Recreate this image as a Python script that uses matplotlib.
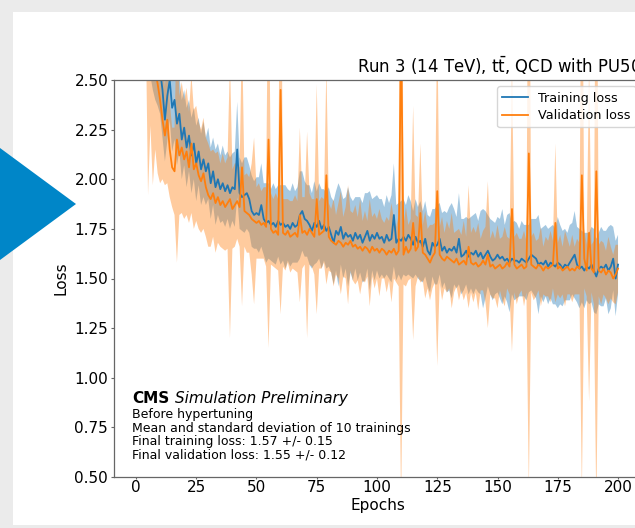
import numpy as np
import matplotlib.pyplot as plt
from matplotlib.patches import Rectangle, Polygon

# per-epoch loss curves (mean and spread over 10 trainings)
epochs = np.arange(1, 201)

train_mean = [
    5.10, 4.05, 3.45, 3.10, 2.90, 2.78, 2.70, 2.64, 2.60, 2.55,
    2.45, 2.30, 2.42, 2.50, 2.36, 2.40, 2.28, 2.33, 2.20, 2.26,
    2.16, 2.22, 2.12, 2.18, 2.08, 2.14, 2.05, 2.10, 2.04, 2.08,
    1.98, 2.04, 1.96, 2.00, 1.95, 1.98, 1.94, 1.97, 1.93, 1.96,
    1.95, 2.15, 1.93, 1.91, 1.92, 1.93, 1.90, 1.84, 1.82, 1.83,
    1.82, 1.87, 1.80, 1.78, 1.79, 1.77, 1.78, 1.76, 1.79, 1.77,
    1.78, 1.76, 1.77, 1.75, 1.78, 1.76, 1.77, 1.82, 1.84, 1.80,
    1.79, 1.77, 1.74, 1.78, 1.76, 1.79, 1.75, 1.77, 1.74, 1.76,
    1.72, 1.68, 1.74, 1.72, 1.76, 1.70, 1.73, 1.71, 1.72, 1.69,
    1.73, 1.70, 1.72, 1.68, 1.71, 1.74, 1.69, 1.72, 1.70, 1.73,
    1.70, 1.71, 1.68, 1.72, 1.69, 1.70, 1.82, 1.68, 1.70, 1.69,
    1.71, 1.69, 1.72, 1.70, 1.67, 1.71, 1.68, 1.69, 1.66, 1.70,
    1.64, 1.62, 1.68, 1.66, 1.67, 1.70, 1.64, 1.66, 1.63, 1.65,
    1.64, 1.66, 1.63, 1.70, 1.61, 1.62, 1.64, 1.61, 1.63, 1.62,
    1.64, 1.61, 1.63, 1.60, 1.62, 1.64, 1.61, 1.59, 1.60, 1.62,
    1.60, 1.61, 1.59, 1.60, 1.58, 1.60, 1.59, 1.59, 1.58, 1.60,
    1.59, 1.58, 1.60, 1.62, 1.61, 1.60, 1.57, 1.58, 1.57, 1.59,
    1.56, 1.58, 1.57, 1.56, 1.58, 1.57, 1.55, 1.57, 1.56, 1.58,
    1.60, 1.62, 1.57, 1.55, 1.56, 1.54, 1.56, 1.55, 1.57, 1.54,
    1.51, 1.55, 1.56, 1.55, 1.57, 1.54, 1.56, 1.60, 1.50, 1.57,
]

train_std = [
    0.60, 0.45, 0.38, 0.32, 0.28, 0.26, 0.25, 0.24, 0.23, 0.22,
    0.24, 0.21, 0.23, 0.20, 0.22, 0.20, 0.21, 0.19, 0.20, 0.19,
    0.20, 0.18, 0.19, 0.18, 0.19, 0.17, 0.18, 0.19, 0.17, 0.18,
    0.18, 0.17, 0.19, 0.18, 0.17, 0.19, 0.18, 0.17, 0.18, 0.17,
    0.19, 0.24, 0.18, 0.17, 0.19, 0.18, 0.17, 0.18, 0.17, 0.18,
    0.19, 0.21, 0.18, 0.20, 0.19, 0.18, 0.20, 0.19, 0.18, 0.20,
    0.19, 0.21, 0.18, 0.19, 0.20, 0.18, 0.19, 0.22, 0.20, 0.19,
    0.18, 0.20, 0.19, 0.21, 0.18, 0.19, 0.20, 0.18, 0.19, 0.20,
    0.19, 0.21, 0.20, 0.26, 0.19, 0.20, 0.18, 0.25, 0.19, 0.20,
    0.18, 0.21, 0.19, 0.20, 0.22, 0.19, 0.25, 0.18, 0.21, 0.19,
    0.20, 0.19, 0.18, 0.20, 0.19, 0.22, 0.26, 0.19, 0.18, 0.20,
    0.19, 0.18, 0.20, 0.19, 0.17, 0.19, 0.18, 0.20, 0.18, 0.19,
    0.18, 0.19, 0.17, 0.19, 0.20, 0.18, 0.19, 0.18, 0.20, 0.21,
    0.24, 0.19, 0.18, 0.23, 0.19, 0.18, 0.17, 0.19, 0.18, 0.20,
    0.19, 0.18, 0.21, 0.25, 0.22, 0.18, 0.19, 0.20, 0.18, 0.19,
    0.20, 0.24, 0.18, 0.22, 0.25, 0.18, 0.20, 0.19, 0.17, 0.19,
    0.18, 0.19, 0.17, 0.18, 0.19, 0.20, 0.25, 0.17, 0.19, 0.18,
    0.19, 0.18, 0.20, 0.19, 0.23, 0.20, 0.19, 0.18, 0.17, 0.19,
    0.18, 0.22, 0.19, 0.20, 0.18, 0.19, 0.17, 0.18, 0.19, 0.21,
    0.19, 0.18, 0.20, 0.19, 0.17, 0.22, 0.21, 0.16, 0.19, 0.15,
]

val_mean = [
    6.50, 4.60, 3.80, 3.30, 2.95, 2.75, 2.62, 2.55, 2.48, 2.40,
    2.30, 2.22, 2.30, 2.15, 2.06, 2.04, 2.20, 2.12, 2.16, 2.10,
    2.14, 2.06, 2.18, 2.05, 2.08, 2.02, 1.99, 2.03, 1.96, 1.92,
    1.90, 1.93, 1.88, 1.91, 1.87, 1.89, 1.86, 1.88, 1.90, 1.85,
    1.87, 1.89, 1.86, 2.06, 1.84, 1.83, 1.82, 1.80, 1.79, 1.78,
    1.79, 1.77, 1.78, 1.76, 2.20, 1.75, 1.73, 1.74, 1.72, 2.45,
    1.73, 1.72, 1.74, 1.71, 1.72, 1.73, 1.71, 1.82, 1.73, 1.74,
    1.72, 1.75, 1.73, 1.71, 1.90, 1.72, 1.73, 1.74, 2.02, 1.71,
    1.69, 1.68, 1.67, 1.69, 1.68, 1.66, 1.68, 1.67, 1.69, 1.66,
    1.67, 1.65, 1.66, 1.64, 1.66, 1.65, 1.63, 1.66, 1.64, 1.65,
    1.63, 1.65, 1.64, 1.62, 1.64, 1.63, 1.65, 1.62, 1.64, 2.75,
    1.62, 1.66, 1.63, 1.65, 1.78, 1.64, 1.66, 1.83, 1.63, 1.62,
    1.60, 1.58, 1.61, 1.63, 1.94, 1.62, 1.60, 1.59, 1.61, 1.60,
    1.59, 1.58, 1.60, 1.57, 1.58, 1.59, 1.57, 1.66, 1.58, 1.57,
    1.58, 1.56, 1.57, 1.59, 1.57, 1.62, 1.56, 1.57, 1.55, 1.56,
    1.57, 1.55, 1.56, 1.58, 1.56, 1.85, 1.57, 1.55, 1.56, 1.57,
    1.55, 1.56, 2.13, 1.57, 1.56, 1.55, 1.57, 1.56, 1.54, 1.56,
    1.55, 1.56, 1.57, 1.78, 1.55, 1.56, 1.54, 1.55, 1.56, 1.54,
    1.55, 1.54, 1.56, 1.55, 2.02, 1.60, 1.54, 1.73, 1.55, 1.53,
    2.04, 1.54, 1.53, 1.55, 1.52, 1.54, 1.53, 1.50, 1.52, 1.55,
]

val_std = [
    0.50, 0.50, 0.50, 0.45, 1.03, 0.48, 0.65, 0.40, 0.45, 0.42,
    0.30, 0.25, 0.32, 0.24, 0.20, 0.22, 0.62, 0.30, 0.33, 0.30,
    0.32, 0.28, 0.35, 0.30, 0.29, 0.27, 0.26, 0.28, 0.25, 0.26,
    0.24, 0.22, 0.25, 0.23, 0.21, 0.24, 0.22, 0.23, 0.70, 0.20,
    0.21, 0.19, 0.20, 0.70, 0.18, 0.20, 0.19, 0.28, 0.42, 0.18,
    0.19, 0.17, 0.18, 0.20, 1.05, 0.18, 0.17, 0.19, 0.18, 1.13,
    0.17, 0.18, 0.16, 0.18, 0.17, 0.19, 0.18, 0.44, 0.18, 0.17,
    0.52, 0.18, 0.17, 0.19, 0.58, 0.17, 0.18, 0.16, 0.55, 0.17,
    0.16, 0.22, 0.15, 0.19, 0.26, 0.15, 0.18, 0.30, 0.15, 0.17,
    0.20, 0.16, 0.24, 0.15, 0.18, 0.14, 0.27, 0.15, 0.19, 0.15,
    0.22, 0.15, 0.14, 0.19, 0.15, 0.25, 0.15, 0.14, 0.18, 2.40,
    0.15, 0.20, 0.14, 0.15, 0.59, 0.18, 0.15, 0.35, 0.14, 0.22,
    0.15, 0.19, 0.16, 0.15, 0.88, 0.14, 0.21, 0.14, 0.18, 0.15,
    0.24, 0.15, 0.14, 0.18, 0.14, 0.20, 0.14, 0.31, 0.15, 0.19,
    0.15, 0.22, 0.13, 0.15, 0.19, 0.37, 0.14, 0.17, 0.15, 0.21,
    0.13, 0.16, 0.20, 0.13, 0.14, 0.72, 0.14, 0.18, 0.14, 0.13,
    0.19, 0.13, 1.70, 0.14, 0.17, 0.14, 0.13, 0.20, 0.12, 0.15,
    0.14, 0.18, 0.12, 0.40, 0.13, 0.16, 0.12, 0.19, 0.14, 0.12,
    0.17, 0.12, 0.14, 0.13, 1.60, 0.15, 0.13, 0.85, 0.12, 0.16,
    1.70, 0.13, 0.16, 0.13, 0.12, 0.17, 0.13, 0.12, 0.15, 0.12,
]

info_lines = [
    'Before hypertuning',
    'Mean and standard deviation of 10 trainings',
    'Final training loss: 1.57 +/- 0.15',
    'Final validation loss: 1.55 +/- 0.12',
]

W, H = 635, 528
fig = plt.figure(figsize=(W / 100, H / 100), dpi=100, facecolor='#ebebeb')

# slide panel and arrow marker
fig.add_artist(Rectangle((13 / W, 1 - 525 / H), 1, (525 - 12) / H, transform=fig.transFigure,
                         facecolor='white', edgecolor='none', zorder=-1))
fig.add_artist(Polygon([[0, 1 - 148 / H], [76 / W, 1 - 204 / H], [0, 1 - 260 / H]],
                       closed=True, transform=fig.transFigure, facecolor='#0086c8',
                       edgecolor='none', zorder=5))

ax = fig.add_axes([114.4 / W, 51 / H, 527.6 / W, 397 / H])

tm, ts = np.array(train_mean), np.array(train_std)
vm, vs = np.array(val_mean), np.array(val_std)

ax.fill_between(epochs, tm - ts, tm + ts, color='C0', alpha=0.4, lw=0)
ax.fill_between(epochs, vm - vs, vm + vs, color='C1', alpha=0.4, lw=0)
ax.plot(epochs, tm, color='C0', lw=1.3, label='Training loss')
ax.plot(epochs, vm, color='C1', lw=1.3, label='Validation loss')

ax.set_xlim(-8.95, 209.95)
ax.set_ylim(0.5, 2.5)
ax.set_xticks([0, 25, 50, 75, 100, 125, 150, 175, 200])
ax.set_yticks(np.arange(0.5, 2.51, 0.25))
ax.yaxis.set_major_formatter(plt.FormatStrFormatter('%.2f'))
ax.tick_params(labelsize=11, length=2.5, width=0.8, pad=2, color='#666666')
ax.tick_params(axis='x', length=1.5, pad=0.5)
for sp in ax.spines.values():
    sp.set_color('#666666')
    sp.set_linewidth(0.9)

ax.set_xlabel('Epochs', fontsize=11, labelpad=2)
ax.set_ylabel('Loss', fontsize=11, labelpad=4)
ax.set_title(r'Run 3 (14 TeV), $\mathrm{t\bar{t}}$, QCD with PU50', loc='right', fontsize=11.9, pad=5)

ax.legend(loc='upper right', fontsize=9.2, labelspacing=0.35)

cms = ax.text(0.033, 0.186, 'CMS', transform=ax.transAxes, fontsize=11, fontweight='bold',
              va='baseline')
ax.annotate('Simulation Preliminary', xy=(1, 0), xycoords=cms, xytext=(4, 0),
            textcoords='offset points', fontsize=11, style='italic', va='bottom')
ax.text(0.033, 0.04, '\n'.join(info_lines), transform=ax.transAxes, fontsize=9,
        va='bottom', linespacing=1.03)

fig.savefig('out.png', dpi=100, facecolor=fig.get_facecolor())
